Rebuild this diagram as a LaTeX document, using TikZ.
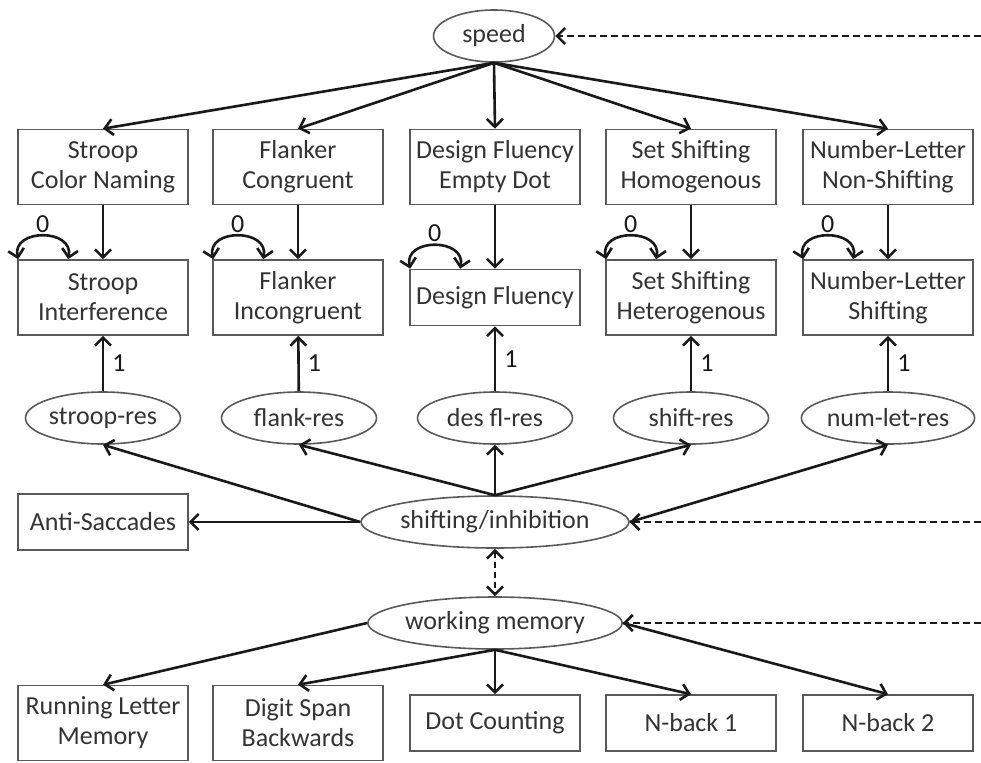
\documentclass[tikz,border=0pt]{standalone}
\usepackage{fontspec}
\setmainfont{Carlito}
\usetikzlibrary{shapes.geometric,arrows.meta,calc}
\tikzset{
  box/.style={draw=black!65,line width=0.8pt,minimum width=85pt,minimum height=37.5pt,align=center,inner sep=1pt},
  flatbox/.style={box,minimum height=28pt},
  oval/.style={ellipse,draw=black!65,line width=0.8pt,inner sep=0pt,minimum height=26pt},
  arr/.style={-{Straight Barb[length=4pt,width=8pt]},line width=1.3pt,black!90},
  twoarr/.style={{Straight Barb[length=4pt,width=8pt]}-{Straight Barb[length=4pt,width=8pt]},line width=1.3pt,black!90},
  darr/.style={arr,dash pattern=on 3.5pt off 2pt},
}
\begin{document}
\begin{tikzpicture}[x=0.5pt,y=-0.5pt,font=\fontsize{13}{15}\selectfont,text=black!80]
    \useasboundingbox (0,0) rectangle (981,762);
    % latent factors
    \node[oval,minimum width=60.5pt] (speed) at (494,36) {speed};
    \node[oval,minimum width=111pt] (shift) at (495,522) {shifting/inhibition};
    \node[oval,minimum width=111pt] (wm) at (495,623) {working memory};
    % baseline tasks
    \node[box] (scn) at (103,167) {Stroop\\Color Naming};
    \node[box] (fc) at (298,167) {Flanker\\Congruent};
    \node[box] (dfe) at (495,167) {Design Fluency\\Empty Dot};
    \node[box] (ssh) at (691,167) {Set Shifting\\Homogenous};
    \node[box] (nln) at (888,167) {Number-Letter\\Non-Shifting};
    % switch tasks
    \node[box] (si) at (103,297.5) {Stroop\\Interference};
    \node[box] (fi) at (298,297.5) {Flanker\\Incongruent};
    \node[flatbox] (df) at (495,297.5) {Design Fluency};
    \node[box] (sshet) at (691,297.5) {Set Shifting\\Heterogenous};
    \node[box] (nls) at (888,297.5) {Number-Letter\\Shifting};
    % residuals
    \node[oval,minimum width=77.5pt] (sres) at (103,418) {stroop-res};
    \node[oval,minimum width=77.5pt] (fres) at (299,418) {flank-res};
    \node[oval,minimum width=77.5pt] (dres) at (495,418) {des fl-res};
    \node[oval,minimum width=77.5pt] (shres) at (691,418) {shift-res};
    \node[oval,minimum width=77.5pt] (nres) at (888,418) {num-let-res};
    \node[flatbox] (anti) at (103,522) {Anti-Saccades};
    % memory tasks
    \node[box] (rlm) at (103,723) {Running Letter\\Memory};
    \node[box] (dsb) at (298,723) {Digit Span\\Backwards};
    \node[flatbox] (dc) at (495,723) {Dot Counting};
    \node[flatbox] (nb1) at (691,723) {N-back 1};
    \node[flatbox] (nb2) at (888,723) {N-back 2};
    % free ends of the dashed lines
    \coordinate (e1) at (981,36);
    \coordinate (e2) at (981,522);
    \coordinate (e3) at (981,623);

    \draw[arr] (speed.south) -- (scn.north);
    \draw[arr] (speed.south) -- (fc.north);
    \draw[arr] (speed.south) -- (dfe.north);
    \draw[arr] (speed.south) -- (ssh.north);
    \draw[arr] (speed.south) -- (nln.north);
    \draw[arr] (scn) -- (si);
    \draw[arr] (fc) -- (fi);
    \draw[arr] (dfe) -- (df);
    \draw[arr] (ssh) -- (sshet);
    \draw[arr] (nln) -- (nls);
    % self loops
    \draw[twoarr] ($(si.north west)+(1,0)$) .. controls ($(si.north west)+(-6,-31)$) and ($(si.north west)+(57,-31)$) .. node[above,inner sep=1pt] {0} ($(si.north west)+(51,0)$);
    \draw[twoarr] ($(fi.north west)+(1,0)$) .. controls ($(fi.north west)+(-6,-31)$) and ($(fi.north west)+(57,-31)$) .. node[above,inner sep=1pt] {0} ($(fi.north west)+(51,0)$);
    \draw[twoarr] ($(df.north west)+(1,0)$) .. controls ($(df.north west)+(-6,-31)$) and ($(df.north west)+(57,-31)$) .. node[above,inner sep=1pt] {0} ($(df.north west)+(51,0)$);
    \draw[twoarr] ($(sshet.north west)+(1,0)$) .. controls ($(sshet.north west)+(-6,-31)$) and ($(sshet.north west)+(57,-31)$) .. node[above,inner sep=1pt] {0} ($(sshet.north west)+(51,0)$);
    \draw[twoarr] ($(nls.north west)+(1,0)$) .. controls ($(nls.north west)+(-6,-31)$) and ($(nls.north west)+(57,-31)$) .. node[above,inner sep=1pt] {0} ($(nls.north west)+(51,0)$);
    % residual paths
    \draw[arr] (sres) -- node[right,inner sep=4pt] {1} (si);
    \draw[arr] (fres) -- node[right,inner sep=4pt] {1} (fi);
    \draw[arr] (dres) -- node[right,inner sep=4pt] {1} (df);
    \draw[arr] (shres) -- node[right,inner sep=4pt] {1} (sshet);
    \draw[arr] (nres) -- node[right,inner sep=4pt] {1} (nls);
    \draw[arr] (shift.west) -- (sres.south);
    \draw[arr] (shift.north) -- (fres.south);
    \draw[arr] (shift.north) -- (dres.south);
    \draw[arr] (shift.north) -- (shres.south);
    \draw[arr] (shift.east) -- (nres.south);
    \draw[arr] (shift.west) -- (anti.east);
    \draw[twoarr,dash pattern=on 3pt off 2pt] (shift.south) -- (wm.north);
    \draw[arr] (wm.west) -- (rlm.north);
    \draw[arr] (wm.south) -- (dsb.north);
    \draw[arr] (wm.south) -- (dc.north);
    \draw[arr] (wm.south) -- (nb1.north);
    \draw[arr] (wm.east) -- (nb2.north);
    % dashed links from the right
    \draw[darr] (e1) -- (speed.east);
    \draw[darr] (e2) -- (shift.east);
    \draw[darr] (e3) -- (wm.east);
\end{tikzpicture}
\end{document}
